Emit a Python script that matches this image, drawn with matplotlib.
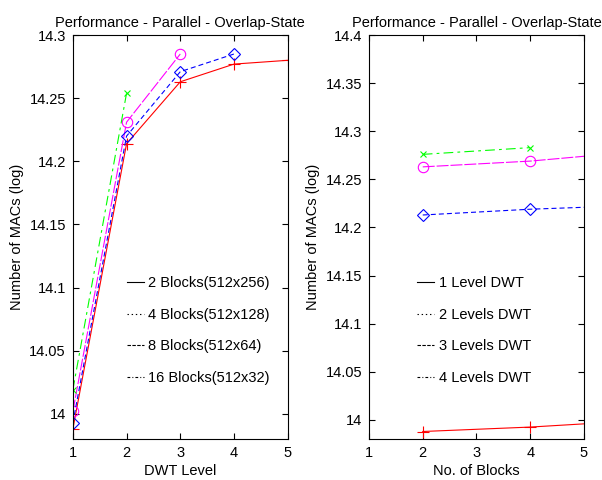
import matplotlib
matplotlib.use("Agg")
import matplotlib.pyplot as plt
from matplotlib.lines import Line2D

plt.rcParams['font.family'] = ['Liberation Sans', 'DejaVu Sans']
plt.rcParams['lines.scale_dashes'] = False

# ---- Left panel: Number of MACs vs DWT level ----
dwt_levels = [1, 2, 3, 4, 5]
blocks2 = [13.988, 14.214, 14.263, 14.277, 14.280]
levels_b4 = [1, 2, 3]
blocks4 = [14.002, 14.231, 14.285]
levels_b8 = [1, 2, 3, 4]
blocks8 = [13.993, 14.220, 14.271, 14.285]
levels_b16 = [1, 2]
blocks16 = [14.019, 14.254]
left_labels = ['2 Blocks(512x256)', '4 Blocks(512x128)', '8 Blocks(512x64)', '16 Blocks(512x32)']

# ---- Right panel: Number of MACs vs No. of blocks ----
nblocks = [2, 4, 8]
level1 = [13.988, 13.9926, 14.006]
level2 = [14.263, 14.269, 14.289]
level3 = [14.213, 14.219, 14.227]
nblocks_l4 = [2, 4]
level4 = [14.276, 14.283]
right_labels = ['1 Level DWT', '2 Levels DWT', '3 Levels DWT', '4 Levels DWT']

title = 'Performance - Parallel - Overlap-State'
ylabel = 'Number of MACs (log)'

RED, MAG, BLUE, GREEN = '#ff0000', '#ff00ff', '#0000ff', '#00ff00'
DASH_M = (0, (8.6, 1.4))
DASH_B = (0, (3.6, 2.2))
DASH_G = (0, (7, 3, 2, 3))
LW = 0.8
FS = 10.5

fig = plt.figure(figsize=(6.02, 4.80), dpi=100)
axL = fig.add_axes([0.121, 0.085, 0.357, 0.842])
axR = fig.add_axes([0.613, 0.085, 0.357, 0.842])

def draw(ax, xs, ys, color, ls, marker, ms):
    ax.plot(xs, ys, color=color, lw=LW, ls=ls, marker=marker, ms=ms,
            mfc='none', mew=LW)

draw(axL, dwt_levels, blocks2, RED, '-', '+', 8)
draw(axL, levels_b4, blocks4, MAG, DASH_M, 'o', 7.5)
draw(axL, levels_b8, blocks8, BLUE, DASH_B, 'D', 6)
draw(axL, levels_b16, blocks16, GREEN, DASH_G, 'x', 4.5)

draw(axR, nblocks, level1, RED, '-', '+', 8)
draw(axR, nblocks, level2, MAG, DASH_M, 'o', 7.5)
draw(axR, nblocks, level3, BLUE, DASH_B, 'D', 6)
draw(axR, nblocks_l4, level4, GREEN, DASH_G, 'x', 4.5)

def style(ax, ylim, yticks, ylabels, xlabel):
    ax.set_xlim(1, 5)
    ax.set_ylim(*ylim)
    ax.set_xticks([1, 2, 3, 4, 5])
    ax.set_xticklabels(['1', '2', '3', '4', '5'])
    ax.set_yticks(yticks)
    ax.set_yticklabels(ylabels)
    ax.tick_params(direction='in', top=True, right=True, length=4, width=0.8,
                   labelsize=FS, pad=5)
    for s in ax.spines.values():
        s.set_linewidth(0.8)
    ax.set_title(title, fontsize=FS, pad=6)
    ax.set_ylabel(ylabel, fontsize=FS, labelpad=4)
    ax.set_xlabel(xlabel, fontsize=FS, labelpad=3)

yl = [14.0, 14.05, 14.1, 14.15, 14.2, 14.25, 14.3]
style(axL, (13.98, 14.3), yl, ['14', '14.05', '14.1', '14.15', '14.2', '14.25', '14.3'], 'DWT Level')
yr = [14.0, 14.05, 14.1, 14.15, 14.2, 14.25, 14.3, 14.35, 14.4]
style(axR, (13.98, 14.4), yr, ['14', '14.05', '14.1', '14.15', '14.2', '14.25', '14.3', '14.35', '14.4'], 'No. of Blocks')

def proxies():
    return [Line2D([], [], color='black', lw=LW, ls='-'),
            Line2D([], [], color='black', lw=LW, ls=(0, (1, 2))),
            Line2D([], [], color='black', lw=LW, ls=(0, (2.5, 1))),
            Line2D([], [], color='black', lw=LW, ls=(0, (2, 1.5, 0.7, 1.5)))]

axL.legend(proxies(), left_labels, loc='upper left', bbox_to_anchor=(0.25, 0.403),
           frameon=False, fontsize=FS, handlelength=1.2, handletextpad=0.3,
           labelspacing=1.2, borderpad=0, borderaxespad=0)
axR.legend(proxies(), right_labels, loc='upper left', bbox_to_anchor=(0.223, 0.403),
           frameon=False, fontsize=FS, handlelength=1.2, handletextpad=0.3,
           labelspacing=1.2, borderpad=0, borderaxespad=0)

fig.savefig('out.png', dpi=100)
